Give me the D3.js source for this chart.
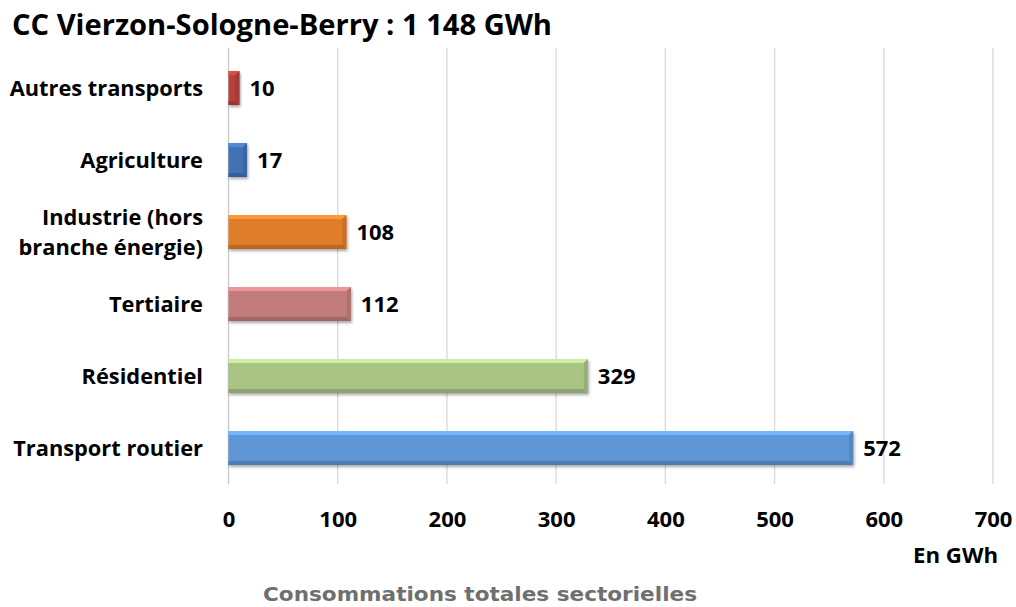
<!DOCTYPE html>
<html><head><meta charset="utf-8">
<script src="https://cdn.jsdelivr.net/npm/d3@7"></script>
<style>body{margin:0;background:#fff}svg{display:block}</style>
</head><body><svg id="c" width="1016" height="607"></svg>
<script>
const categories = ["Autres transports","Agriculture","Industrie (hors branche énergie)","Tertiaire","Résidentiel","Transport routier"];
const values = [10,17,108,112,329,572];
const colors = ["#b8403c","#3f72b6","#e07d2b","#c27c7b","#a9c485","#6096d6"];
const xTicks = [0,100,200,300,400,500,600,700];
const title = "CC Vierzon-Sologne-Berry : 1 148 GWh";
const unitLabel = "En GWh";
const footer = "Consommations totales sectorielles";

const svg = d3.select("#c");
const F = "'Open Sans', sans-serif";
const x = d3.scaleLinear().domain([0,700]).range([228.5,993]);
const y = d3.scaleBand().domain(categories).range([52,484]).paddingInner(0.53).paddingOuter(0.265);

// grid
svg.append("g").selectAll("line").data(xTicks).join("line")
  .attr("x1",d=>x(d)).attr("x2",d=>x(d)).attr("y1",48).attr("y2",484)
  .attr("stroke",d=>d===0?"#c8c8c8":"#d9d9d9").attr("stroke-width",1.3);

// axis tick labels
const ax = d3.axisBottom(x).tickValues(xTicks).tickSize(0).tickPadding(0);
const axg = svg.append("g").attr("transform","translate(0,527)").call(ax);
axg.select(".domain").remove();
axg.selectAll("text").attr("font-family",F).attr("font-weight",700).attr("font-size",22).attr("fill","#000").attr("dy","0").attr("y",0);

const defs = svg.append("defs");
const f = defs.append("filter").attr("id","sh").attr("x","-10%").attr("y","-30%").attr("width","130%").attr("height","180%");
f.append("feGaussianBlur").attr("in","SourceAlpha").attr("stdDeviation",1.5);
f.append("feOffset").attr("dx",1).attr("dy",2).attr("result","b");
f.append("feComponentTransfer").append("feFuncA").attr("type","linear").attr("slope",0.35);
const m = f.append("feMerge"); m.append("feMergeNode"); m.append("feMergeNode").attr("in","SourceGraphic");

const data = categories.map((c,i)=>({c,v:values[i],col:colors[i]}));
const bars = svg.append("g").selectAll("g").data(data).join("g").attr("filter","url(#sh)");
const bv = 4;
bars.append("rect").attr("x",x(0)).attr("y",d=>y(d.c)).attr("width",d=>x(d.v)-x(0)).attr("height",y.bandwidth())
  .attr("fill",d=>d.col);
bars.append("path").attr("d",d=>{const x0=x(0),x1=x(d.v),y0=y(d.c);return `M${x0},${y0}L${x1},${y0}L${x1-bv},${y0+bv}L${x0},${y0+bv}Z`;})
  .attr("fill",d=>d3.color(d.col).brighter(0.55));
bars.append("path").attr("d",d=>{const x0=x(0),x1=x(d.v),y1=y(d.c)+y.bandwidth();return `M${x0},${y1}L${x1},${y1}L${x1-bv},${y1-bv}L${x0},${y1-bv}Z`;})
  .attr("fill",d=>d3.color(d.col).darker(0.5));
bars.append("path").attr("d",d=>{const x1=x(d.v),y0=y(d.c),y1=y0+y.bandwidth();return `M${x1},${y0}L${x1},${y1}L${x1-bv},${y1-bv}L${x1-bv},${y0+bv}Z`;})
  .attr("fill",d=>d3.color(d.col).darker(0.3));

// value labels
svg.append("g").selectAll("text").data(data).join("text")
  .attr("x",d=>x(d.v)+10).attr("y",d=>y(d.c)+y.bandwidth()/2).attr("dy","0.36em")
  .attr("font-family",F).attr("font-weight",700).attr("font-size",22).attr("fill","#000").text(d=>d.v);

// category labels
const cl = svg.append("g").selectAll("text").data(categories).join("text")
  .attr("x",203).attr("y",d=>y(d)+y.bandwidth()/2).attr("text-anchor","end")
  .attr("font-family",F).attr("font-weight",700).attr("font-size",21.8).attr("fill","#000");
cl.each(function(d){
  const t=d3.select(this);
  if(d.startsWith("Industrie")){
    t.append("tspan").attr("x",203).attr("dy","-0.34em").text("Industrie (hors");
    t.append("tspan").attr("x",203).attr("dy","1.38em").text("branche énergie)");
  } else t.attr("dy","0.36em").text(d);
});

svg.append("text").attr("x",12).attr("y",35).attr("font-family",F).attr("font-weight",700).attr("font-size",28)
  .attr("textLength",540).attr("lengthAdjust","spacingAndGlyphs").text(title);
svg.append("text").attr("x",913).attr("y",563).attr("font-family",F).attr("font-weight",700).attr("font-size",21.5)
  .attr("textLength",85).attr("lengthAdjust","spacingAndGlyphs").text(unitLabel);
svg.append("text").attr("x",263).attr("y",601).attr("font-family","'DejaVu Sans', sans-serif").attr("font-weight",700).attr("font-size",19.5)
  .attr("fill","#6f6f6f").attr("textLength",434).attr("lengthAdjust","spacingAndGlyphs").text(footer);
</script></body></html>
